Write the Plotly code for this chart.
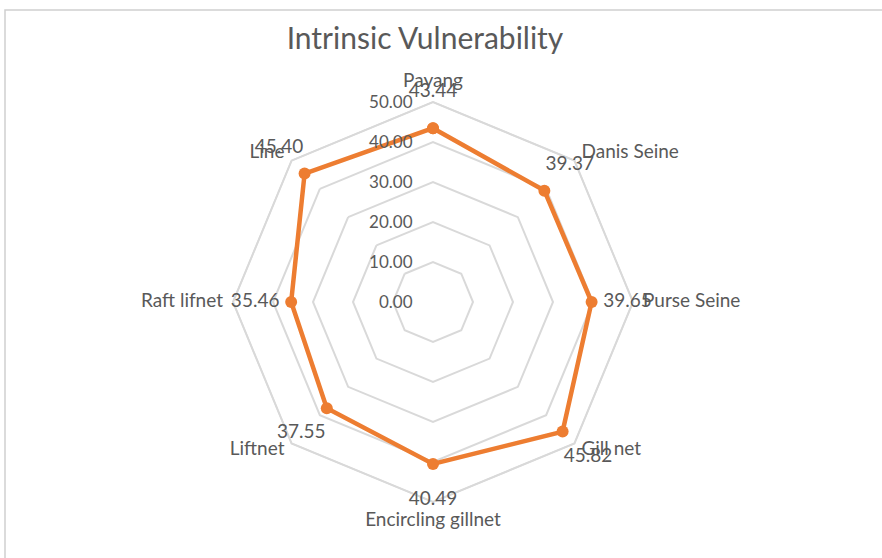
import plotly.graph_objects as go

# Fishing gear types and their intrinsic vulnerability scores
gears = ["Payang", "Danis Seine", "Purse Seine", "Gill net",
         "Encircling gillnet", "Liftnet", "Raft lifnet", "Line"]
scores = [43.44, 39.37, 39.65, 45.82, 40.49, 37.55, 35.46, 45.40]
radial_ticks = [0, 10, 20, 30, 40, 50]
radial_tick_text = [f"{t:.2f}" for t in radial_ticks]

W, H = 882, 558
ORANGE = "#ED7D31"
GRID = "#D9D9D9"
TEXT = "#595959"
FONT = "Lato"
AXIS_MAX = 50          # outermost grid ring
VIEW_MAX = 60          # radial range, leaves room for labels beyond the outer ring
LABEL_PAD = 9          # radial gap (data units) between a marker and its value label
CAT_R = 52.5           # radius at which the gear names sit
TICK_GAP = "\u00a0" * 4  # keeps the radial tick labels clear of the vertical axis
cat_positions = ["top center", "middle right", "middle right", "middle right",
                 "bottom center", "middle left", "middle left", "middle left"]

# polar placement in pixels (outer ring radius = 200 px)
cx, cy = 433, 302
ring_px = 200
rad = ring_px * VIEW_MAX / AXIS_MAX

closed_gears = gears + gears[:1]
closed_scores = scores + scores[:1]

fig = go.Figure()
# outer ring of the octagonal grid
fig.add_trace(go.Scatterpolar(
    r=[AXIS_MAX] * (len(gears) + 1), theta=closed_gears,
    mode="lines", line=dict(color=GRID, width=1.5),
    hoverinfo="skip", showlegend=False,
))
fig.add_trace(go.Scatterpolar(
    r=closed_scores, theta=closed_gears,
    mode="lines+markers",
    line=dict(color=ORANGE, width=4.5),
    marker=dict(color=ORANGE, size=12),
    hoverinfo="skip",
    showlegend=False,
))
# gear names
fig.add_trace(go.Scatterpolar(
    r=[CAT_R] * len(gears), theta=gears,
    mode="text", text=gears, textposition=cat_positions,
    textfont=dict(family=FONT, size=19, color=TEXT),
    cliponaxis=False, hoverinfo="skip", showlegend=False,
))
# value labels
fig.add_trace(go.Scatterpolar(
    r=[v + LABEL_PAD for v in scores], theta=gears,
    mode="text",
    text=[f"{v:.2f}" for v in scores],
    textposition="middle center",
    textfont=dict(family=FONT, size=19, color=TEXT),
    cliponaxis=False,
    hoverinfo="skip",
    showlegend=False,
))

fig.update_layout(
    width=W, height=H,
    margin=dict(l=0, r=0, t=0, b=0),
    paper_bgcolor="white",
    plot_bgcolor="white",
    font=dict(family=FONT, color=TEXT),
    title=dict(text="Intrinsic Vulnerability", x=425 / W, xanchor="center",
               y=1 - 38 / H, yanchor="middle",
               font=dict(family=FONT, size=30, color=TEXT)),
    polar=dict(
        domain=dict(x=[(cx - rad) / W, (cx + rad) / W],
                    y=[1 - (cy + rad) / H, 1 - (cy - rad) / H]),
        gridshape="linear",
        bgcolor="rgba(0,0,0,0)",
        radialaxis=dict(
            range=[0, VIEW_MAX], tickvals=radial_ticks,
            ticktext=[t + TICK_GAP for t in radial_tick_text],
            angle=90, tickangle=90, side="counterclockwise",
            showline=False, ticks="",
            gridcolor=GRID, gridwidth=1.5,
            tickfont=dict(family=FONT, size=17, color=TEXT),
        ),
        angularaxis=dict(
            direction="clockwise", rotation=90,
            showgrid=False, showline=False, showticklabels=False,
            ticks="",
        ),
    ),
    shapes=[dict(type="rect", xref="paper", yref="paper",
                 x0=5 / W, x1=1.05, y0=-0.05, y1=1 - 10 / H,
                 line=dict(color="#D0D0D0", width=1.5), fillcolor="rgba(0,0,0,0)",
                 layer="below")],
)

fig.write_html("out.html")
